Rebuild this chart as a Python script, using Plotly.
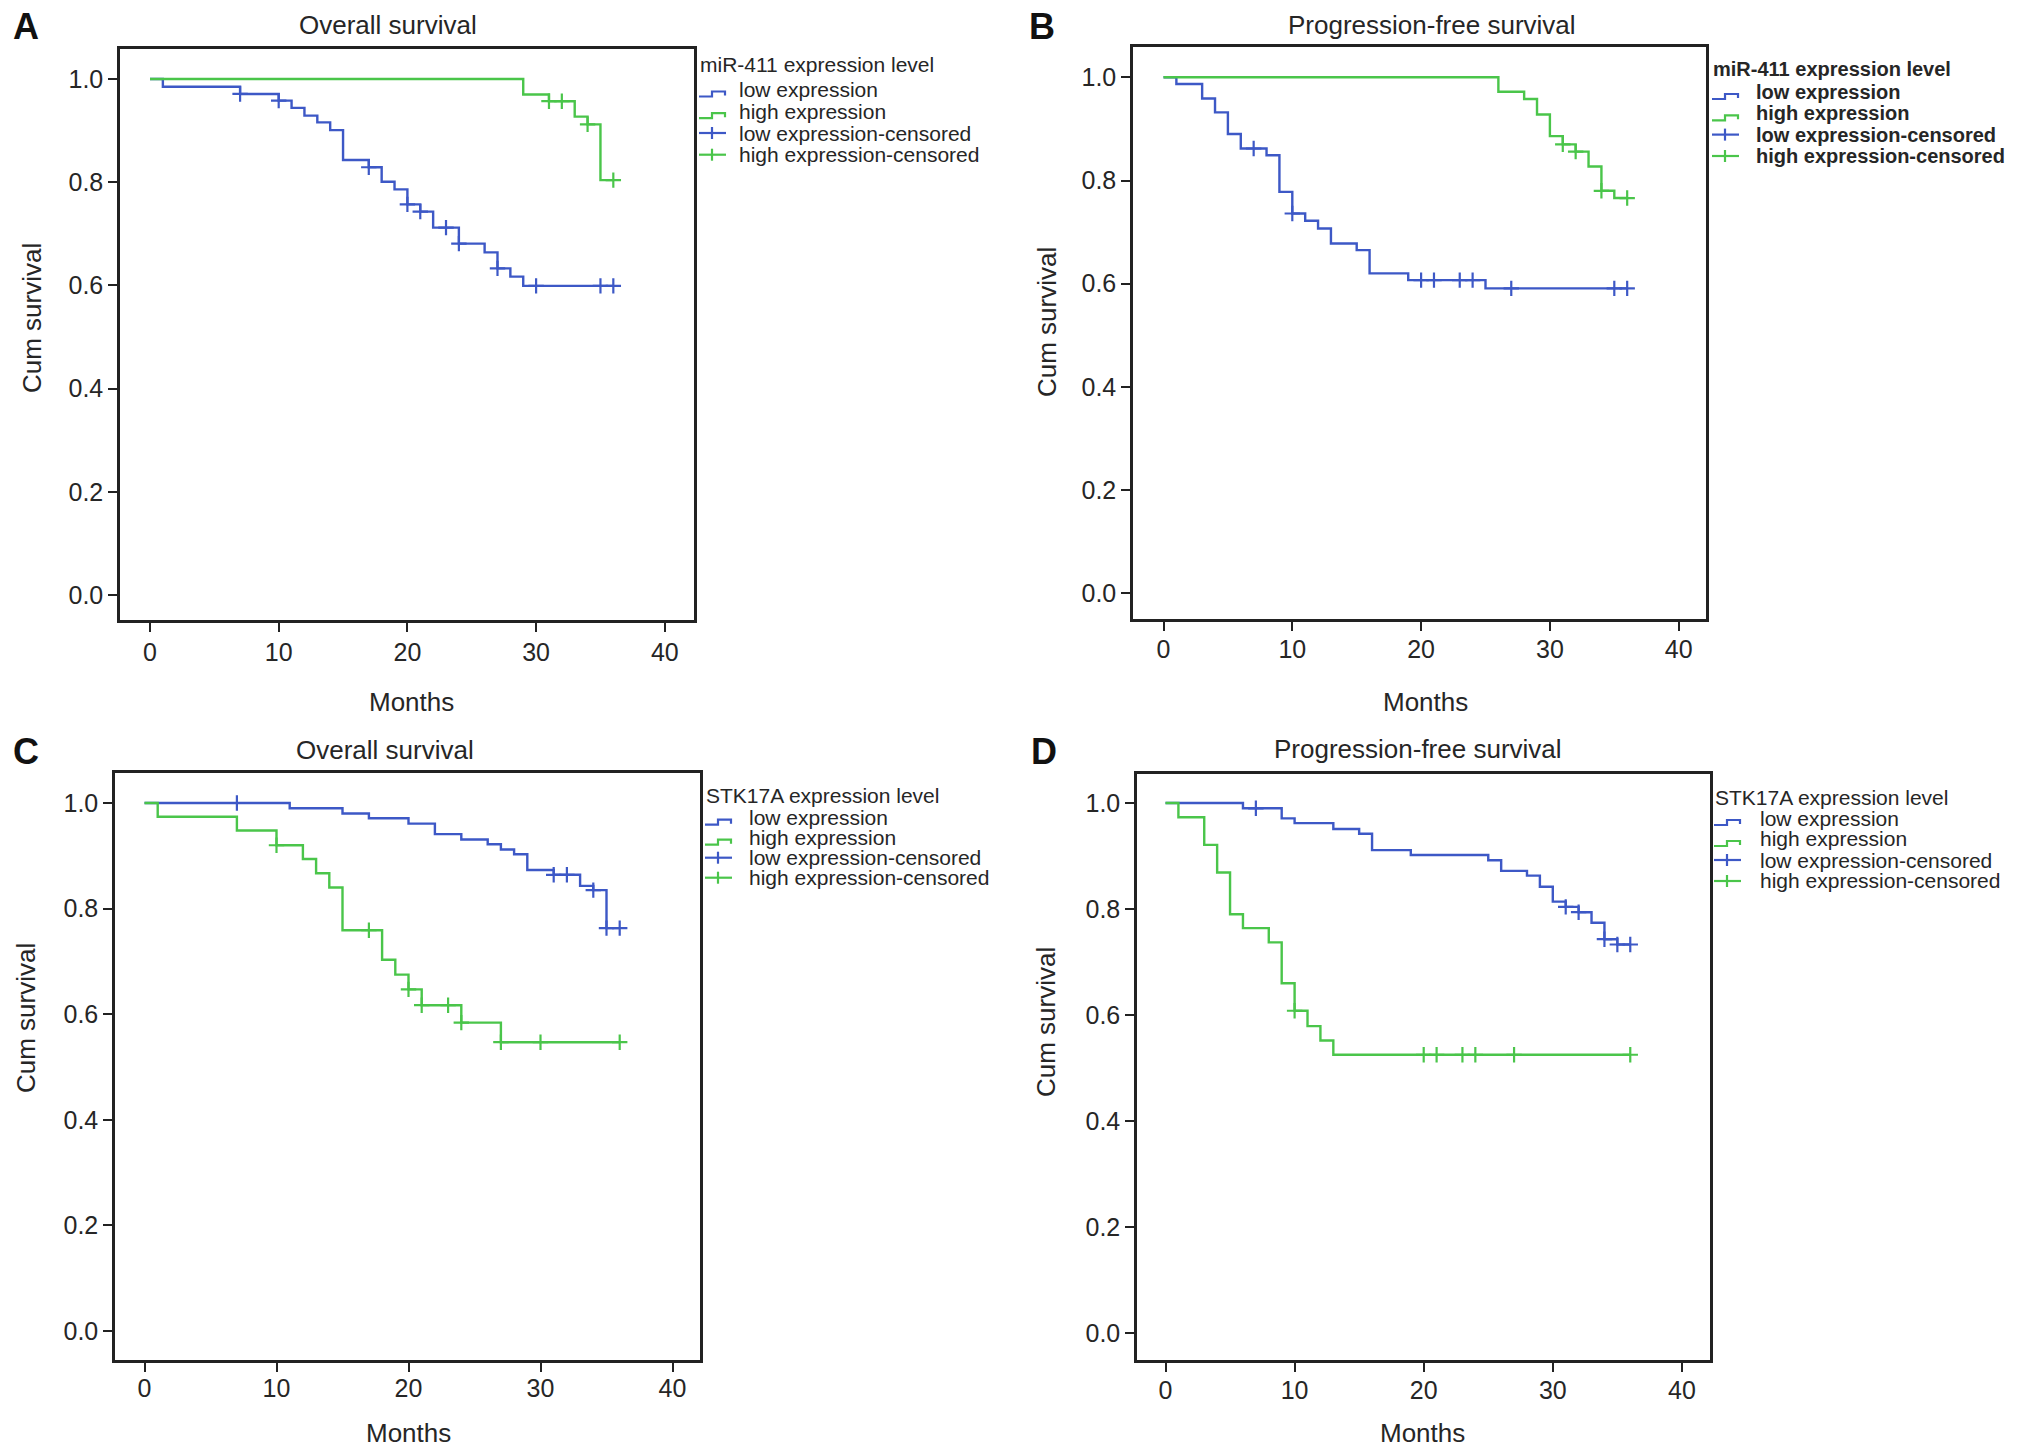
import numpy as np
import plotly.graph_objects as go

# ---------------- data ----------------
# Panel A: miR-411, overall survival
A_low_t = [0, 1, 7, 10, 11, 12, 13, 14, 15, 17, 18, 19, 20, 21, 22, 24, 26, 27, 28, 29, 36]
A_low_s = [1.0, 0.985, 0.971, 0.958, 0.944, 0.929, 0.916, 0.901, 0.843, 0.829, 0.801, 0.786,
           0.757, 0.743, 0.712, 0.681, 0.664, 0.633, 0.617, 0.599, 0.599]
A_low_cens = [7, 10, 17, 20, 21, 23, 24, 27, 30, 35, 36]
A_high_t = [0, 29, 31, 33, 34, 35, 36]
A_high_s = [1.0, 0.970, 0.957, 0.927, 0.912, 0.804, 0.804]
A_high_cens = [31, 32, 34, 36]

# Panel B: miR-411, progression-free survival
B_low_t = [0, 1, 3, 4, 5, 6, 8, 9, 10, 11, 12, 13, 15, 16, 19, 25, 36]
B_low_s = [1.0, 0.987, 0.959, 0.932, 0.890, 0.862, 0.849, 0.778, 0.736, 0.722, 0.707, 0.678,
           0.665, 0.620, 0.607, 0.591, 0.591]
B_low_cens = [7, 10, 20, 21, 23, 24, 27, 35, 36]
B_high_t = [0, 26, 28, 29, 30, 31, 32, 33, 34, 35, 36]
B_high_s = [1.0, 0.972, 0.958, 0.928, 0.886, 0.870, 0.856, 0.827, 0.780, 0.766, 0.766]
B_high_cens = [31, 32, 34, 36]

# Panel C: STK17A, overall survival
C_low_t = [0, 11, 15, 17, 20, 22, 24, 26, 27, 28, 29, 31, 33, 34, 35, 36]
C_low_s = [1.0, 0.990, 0.980, 0.971, 0.961, 0.941, 0.931, 0.922, 0.912, 0.903, 0.873, 0.864,
           0.843, 0.835, 0.763, 0.763]
C_low_cens = [7, 31, 32, 34, 35, 36]
C_high_t = [0, 1, 7, 10, 12, 13, 14, 15, 18, 19, 20, 21, 24, 27, 36]
C_high_s = [1.0, 0.974, 0.948, 0.920, 0.894, 0.867, 0.840, 0.759, 0.703, 0.675, 0.647, 0.617,
            0.584, 0.547, 0.547]
C_high_cens = [10, 17, 20, 21, 23, 24, 27, 30, 36]

# Panel D: STK17A, progression-free survival
D_low_t = [0, 6, 9, 10, 13, 15, 16, 19, 25, 26, 28, 29, 30, 31, 32, 33, 34, 35, 36]
D_low_s = [1.0, 0.990, 0.971, 0.962, 0.951, 0.942, 0.911, 0.902, 0.892, 0.872, 0.863, 0.842,
           0.814, 0.804, 0.794, 0.774, 0.743, 0.733, 0.733]
D_low_cens = [7, 31, 32, 34, 35, 36]
D_high_t = [0, 1, 3, 4, 5, 6, 8, 9, 10, 11, 12, 13, 36]
D_high_s = [1.0, 0.973, 0.921, 0.869, 0.790, 0.764, 0.737, 0.660, 0.608, 0.579, 0.552, 0.525, 0.525]
D_high_cens = [10, 20, 21, 23, 24, 27, 36]

panel_letters = ["A", "B", "C", "D"]
panel_titles = ["Overall survival", "Progression-free survival",
                "Overall survival", "Progression-free survival"]
legend_titles = ["miR-411 expression level", "miR-411 expression level",
                 "STK17A expression level", "STK17A expression level"]
legend_labels = ["low expression", "high expression",
                 "low expression-censored", "high expression-censored"]
x_label = "Months"
y_label = "Cum survival"
x_ticks = [0, 10, 20, 30, 40]
y_ticks = [0.0, 0.2, 0.4, 0.6, 0.8, 1.0]

series = [
    (A_low_t, A_low_s, A_low_cens, A_high_t, A_high_s, A_high_cens),
    (B_low_t, B_low_s, B_low_cens, B_high_t, B_high_s, B_high_cens),
    (C_low_t, C_low_s, C_low_cens, C_high_t, C_high_s, C_high_cens),
    (D_low_t, D_low_s, D_low_cens, D_high_t, D_high_s, D_high_cens),
]

# ---------------- layout (pixel geometry) ----------------
W, H = 2031, 1456
BLUE = "#3d58c6"
GREEN = "#4ac54a"
TXT = "#262626"
FONT = "Liberation Sans, Arial, sans-serif"

# box (left, right, top, bottom) and axis calibration (x0 px, px per month, y(1.0) px, y(0.0) px)
geom = [
    dict(box=(120, 694, 49, 620), x0=150.0, ppm=12.87, y1=79.0, y0=595.0, xso=-1,
         letter=(26, 26), title=(388, 25), ylab=(32, 318), xlab=(411, 702),
         leg=dict(tx=698, ty=64.5, ix=737, rows=[89.5, 111.2, 133, 154.7], bold=False)),
    dict(box=(1133, 1706, 47, 619), x0=1163.5, ppm=12.88, y1=77.3, y0=593.3, xso=-3,
         letter=(1042, 26), title=(1432, 25), ylab=(1047, 322), xlab=(1425, 702),
         leg=dict(tx=1711, ty=69.2, ix=1754, rows=[92, 113.3, 134.6, 156], bold=True)),
    dict(box=(115, 700, 773, 1360), x0=144.5, ppm=13.2, y1=803.0, y0=1331.0, xso=-5,
         letter=(26, 751), title=(385, 750), ylab=(26, 1018), xlab=(408, 1433),
         leg=dict(tx=704, ty=795.7, ix=746.7, rows=[817.7, 837.7, 857.7, 877.7], bold=False)),
    dict(box=(1137, 1710, 774, 1360), x0=1165.5, ppm=12.91, y1=803.0, y0=1333.0, xso=-3,
         letter=(1044, 751), title=(1418, 749), ylab=(1046, 1022), xlab=(1422, 1433),
         leg=dict(tx=1713, ty=797, ix=1758, rows=[818, 839, 860, 881], bold=False)),
]


def px_x(p):
    return p / W


def px_y(p):
    return 1 - p / H


fig = go.Figure()
annotations = []
shapes = []


def censor_values(t, s, cens):
    t = np.asarray(t, dtype=float)
    s = np.asarray(s, dtype=float)
    idx = np.searchsorted(t, np.asarray(cens, dtype=float), side="right") - 1
    return s[idx]


for i, (g, data) in enumerate(zip(geom, series)):
    n = "" if i == 0 else str(i + 1)
    xa, ya = "x" + n, "y" + n
    lt, ls, lc, ht, hs, hc = data
    for (t, s, c, col) in [(lt, ls, lc, BLUE), (ht, hs, hc, GREEN)]:
        fig.add_trace(go.Scatter(x=t, y=s, mode="lines", line=dict(color=col, width=2.4, shape="hv"),
                                 xaxis=xa, yaxis=ya, showlegend=False, hoverinfo="skip"))
    for (t, s, c, col) in [(lt, ls, lc, BLUE), (ht, hs, hc, GREEN)]:
        fig.add_trace(go.Scatter(x=c, y=censor_values(t, s, c), mode="markers",
                                 marker=dict(symbol="cross-thin", size=11,
                                             line=dict(color=col, width=2.2)),
                                 xaxis=xa, yaxis=ya, showlegend=False, hoverinfo="skip"))

    L, R, T, B = g["box"]
    xr = [(L - g["x0"]) / g["ppm"], (R - g["x0"]) / g["ppm"]]
    upp = g["y0"] - g["y1"]
    yr = [(g["y0"] - B) / upp, (g["y0"] - T) / upp]
    common = dict(showline=True, mirror=True, linecolor="#222", linewidth=2.5,
                  showgrid=False, zeroline=False, ticks="outside", ticklen=9, tickwidth=2,
                  tickcolor="#222", tickfont=dict(family=FONT, size=25, color=TXT))
    fig.layout["xaxis" + n] = dict(domain=[px_x(L), px_x(R)], range=xr, anchor=ya,
                                   tickvals=x_ticks, ticklabelstandoff=g["xso"], **common)
    fig.layout["yaxis" + n] = dict(domain=[px_y(B), px_y(T)], range=yr, anchor=xa,
                                   tickvals=y_ticks, tickformat=".1f", ticklabelstandoff=0, **common)

    # panel letter, title, axis titles
    annotations.append(dict(text="<b>" + panel_letters[i] + "</b>", x=px_x(g["letter"][0]),
                            y=px_y(g["letter"][1]), xref="paper", yref="paper", showarrow=False,
                            xanchor="center", yanchor="middle",
                            font=dict(family=FONT, size=36, color="#111")))
    annotations.append(dict(text=panel_titles[i], x=px_x(g["title"][0]), y=px_y(g["title"][1]),
                            xref="paper", yref="paper", showarrow=False, xanchor="center",
                            yanchor="middle", font=dict(family=FONT, size=26, color=TXT)))
    annotations.append(dict(text=y_label, x=px_x(g["ylab"][0]), y=px_y(g["ylab"][1]),
                            xref="paper", yref="paper", showarrow=False, textangle=-90,
                            xanchor="center", yanchor="middle",
                            font=dict(family=FONT, size=26, color=TXT)))
    annotations.append(dict(text=x_label, x=px_x(g["xlab"][0]), y=px_y(g["xlab"][1]),
                            xref="paper", yref="paper", showarrow=False, xanchor="center",
                            yanchor="middle", font=dict(family=FONT, size=26, color=TXT)))

    # legend (SPSS style)
    lg = g["leg"]
    fsize = 20 if lg["bold"] else 21
    wrap = (lambda s: "<b>" + s + "</b>") if lg["bold"] else (lambda s: s)
    annotations.append(dict(text=wrap(legend_titles[i]), x=px_x(lg["tx"]), y=px_y(lg["ty"]),
                            xref="paper", yref="paper", showarrow=False, xanchor="left",
                            yanchor="middle", font=dict(family=FONT, size=fsize, color=TXT)))
    cols = [BLUE, GREEN, BLUE, GREEN]
    for k, (lab, yc) in enumerate(zip(legend_labels, lg["rows"])):
        annotations.append(dict(text=wrap(lab), x=px_x(lg["ix"]), y=px_y(yc),
                                xref="paper", yref="paper", showarrow=False, xanchor="left",
                                yanchor="middle", font=dict(family=FONT, size=fsize, color=TXT)))
        x0 = lg["tx"] + 1
        if k < 2:
            pts = [(x0, yc + 7), (x0 + 13, yc + 7), (x0 + 13, yc + 2), (x0 + 26, yc + 2),
                   (x0 + 26, yc + 6)]
            path = "M " + " L ".join(f"{px_x(a):.5f},{px_y(b):.5f}" for a, b in pts)
            shapes.append(dict(type="path", path=path, xref="paper", yref="paper",
                               line=dict(color=cols[k], width=2.2)))
        else:
            shapes.append(dict(type="line", x0=px_x(x0), x1=px_x(x0 + 27), y0=px_y(yc),
                               y1=px_y(yc), xref="paper", yref="paper",
                               line=dict(color=cols[k], width=2.2)))
            shapes.append(dict(type="line", x0=px_x(x0 + 13), x1=px_x(x0 + 13), y0=px_y(yc - 6),
                               y1=px_y(yc + 6), xref="paper", yref="paper",
                               line=dict(color=cols[k], width=2.2)))

fig.update_layout(width=W, height=H, margin=dict(l=0, r=0, t=0, b=0),
                  paper_bgcolor="white", plot_bgcolor="white",
                  annotations=annotations, shapes=shapes, showlegend=False,
                  font=dict(family=FONT, color=TXT))

fig.write_html("out.html", config={"displayModeBar": False},
               post_script="document.body.style.margin='0px';document.body.style.overflow='hidden';")
